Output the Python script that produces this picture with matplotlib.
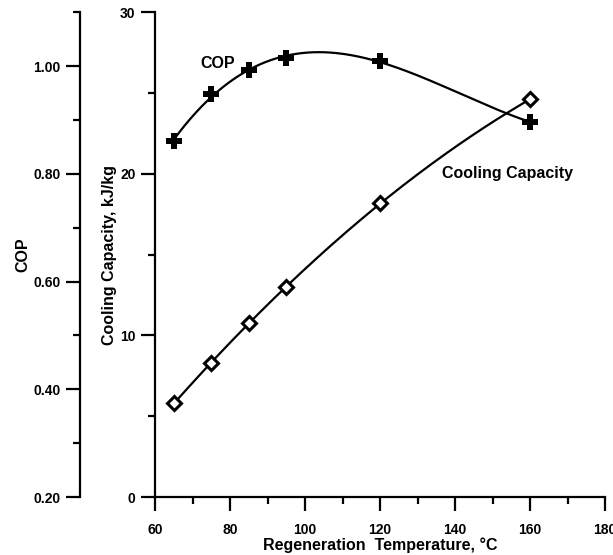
import numpy as np
import matplotlib
matplotlib.use('Agg')
import matplotlib.pyplot as plt
from matplotlib.ticker import MultipleLocator

plt.rcParams['font.family'] = ['Liberation Sans', 'DejaVu Sans']
plt.rcParams['font.weight'] = 'bold'

# Data
temp = [65, 75, 85, 95, 120, 160]
cop = [0.861, 0.948, 0.993, 1.015, 1.009, 0.896]
capacity = [5.81, 8.29, 10.76, 12.99, 18.18, 24.61]

fig = plt.figure(figsize=(6.13, 5.55), dpi=100)
ax = fig.add_axes([0.253, 0.1045, 0.734, 0.8735])

# Smooth fitted curves through the points
xs = np.linspace(min(temp), max(temp), 200)
cap_fit = np.polyval(np.polyfit(temp, capacity, 2), xs)
cop_fit = np.polyval(np.polyfit(temp, cop, 3), xs)

ax.plot(xs, cap_fit, color='black', lw=1.6)
ax.plot(temp, capacity, ls='none', marker='D', ms=7, mfc='white', mec='black', mew=2.2)

ax.set_xlim(60, 180)
ax.set_ylim(0, 30)
ax.xaxis.set_major_locator(MultipleLocator(20))
ax.xaxis.set_minor_locator(MultipleLocator(10))
ax.yaxis.set_major_locator(MultipleLocator(10))
ax.yaxis.set_minor_locator(MultipleLocator(5))
ax.spines['top'].set_visible(False)
ax.spines['right'].set_visible(False)
for s in ['left', 'bottom']:
    ax.spines[s].set_linewidth(1.6)
ax.tick_params(which='major', length=10, width=1.6, labelsize=10, pad=9)
ax.tick_params(which='minor', length=5, width=1.6)
ax.tick_params(axis='y', which='major', pad=4)
ax.set_xlabel('Regeneration  Temperature, °C', fontsize=11.5, fontweight='bold', labelpad=0)
ax.set_ylabel('Cooling Capacity, kJ/kg', fontsize=11.5, fontweight='bold', labelpad=2)

ax.text(76.8, 26.8, 'COP', fontsize=11.5, fontweight='bold', ha='center', va='center')
ax.text(153.9, 20.0, 'Cooling Capacity', fontsize=11.5, fontweight='bold', ha='center', va='center')

# COP axis offset to the left
ax2 = ax.twinx()
ax2.set_ylim(0.2, 1.1)
ax2.plot(xs, cop_fit, color='black', lw=1.6)
ax2.plot(temp, cop, ls='none', marker='P', ms=11, mfc='black', mec='black', mew=0)
ax2.yaxis.set_ticks_position('left')
ax2.yaxis.set_label_position('left')
ax2.spines['left'].set_position(('axes', -0.167))
ax2.spines['left'].set_linewidth(1.6)
for s in ['right', 'top', 'bottom']:
    ax2.spines[s].set_visible(False)
ax2.yaxis.set_minor_locator(MultipleLocator(0.1))
ax2.set_yticks([0.2, 0.4, 0.6, 0.8, 1.0])
ax2.set_yticklabels(['0.20', '0.40', '0.60', '0.80', '1.00'])
ax2.tick_params(which='major', length=10, width=1.6, labelsize=10, pad=4)
ax2.tick_params(which='minor', length=5, width=1.6)
ax2.set_ylabel('COP', fontsize=11.5, fontweight='bold', labelpad=2)

fig.savefig('out.png', dpi=100)
